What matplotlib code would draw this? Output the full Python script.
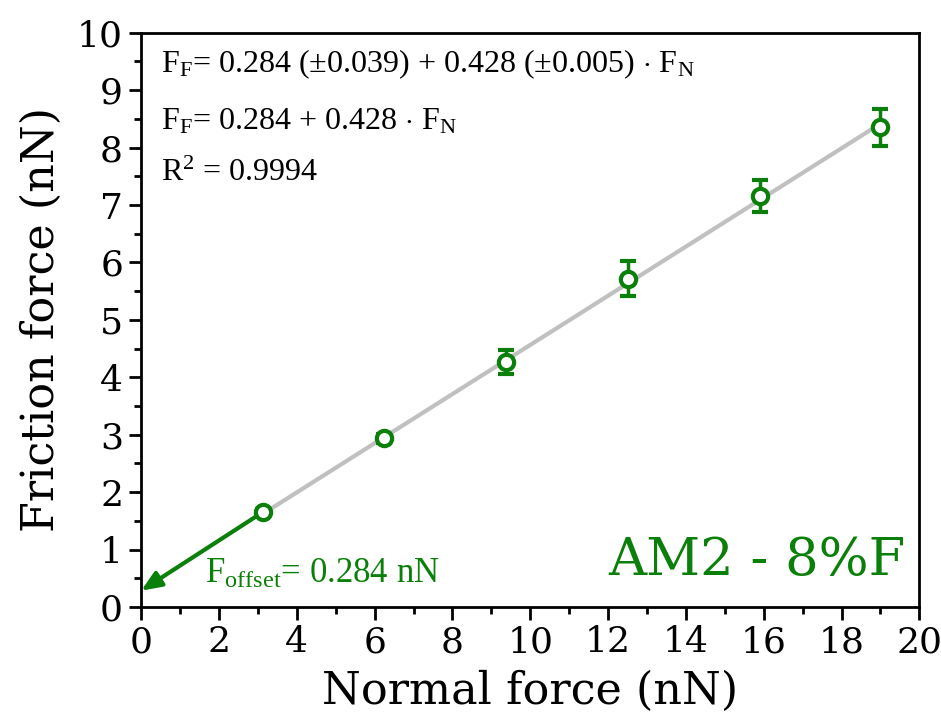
import matplotlib
matplotlib.use("Agg")
import matplotlib.pyplot as plt
import numpy as np

plt.rcParams['font.family'] = ['DejaVu Serif']
plt.rcParams['mathtext.fontset'] = 'custom'
plt.rcParams['mathtext.rm'] = 'Liberation Serif'
plt.rcParams['mathtext.it'] = 'Liberation Serif:italic'

GREEN = '#0a800a'

normal_force = [3.12, 6.23, 9.38, 12.5, 15.9, 19.0]
friction_force = [1.65, 2.94, 4.27, 5.72, 7.16, 8.35]
friction_err = [0.05, 0.08, 0.21, 0.31, 0.28, 0.33]

intercept = 0.284
slope = 0.428

fig, ax = plt.subplots(figsize=(9.41, 7.27), dpi=100)
fig.subplots_adjust(left=0.150, right=0.977, top=0.955, bottom=0.165)

xfit = np.array([normal_force[0], normal_force[-1] + 0.1])
ax.plot(xfit, intercept + slope * xfit, color='#c0c0c0', lw=3, zorder=1)

ax.errorbar(normal_force, friction_force, yerr=friction_err, fmt='o', ms=11,
            mfc='white', mec=GREEN, mew=3, ecolor=GREEN, elinewidth=2.5,
            capsize=5.5, capthick=2.5, zorder=3)

ax.annotate('', xy=(0, intercept), xytext=(normal_force[0], friction_force[0]),
            arrowprops=dict(arrowstyle='-|>,head_length=1.2,head_width=0.5',
                            color=GREEN, lw=3, shrinkA=6, shrinkB=0), zorder=2)

eq_font = dict(family='Liberation Serif', fontsize=23, va='center')
ax.text(1.65, 0.42, r'F$_{\rm offset}$= 0.284 nN', color=GREEN, fontsize=25,
        family='Liberation Serif')
ax.text(19.65, 0.55, 'AM2 - 8%F', color=GREEN, fontsize=38, ha='right')

ax.text(0.5, 9.45, r'F$_{\rm F}$= 0.284 ($\pm$0.039) + 0.428 ($\pm$0.005) $\cdot$ F$_{\rm N}$',
        **eq_font)
ax.text(0.5, 8.45, r'F$_{\rm F}$= 0.284 + 0.428 $\cdot$ F$_{\rm N}$', **eq_font)
ax.text(0.5, 7.55, r'R$^2$ = 0.9994', **eq_font)

ax.set_xlim(0, 20)
ax.set_ylim(0, 10)
ax.set_xticks(np.arange(0, 21, 2))
ax.set_yticks(np.arange(0, 11, 1))
ax.set_xticks(np.arange(1, 20, 2), minor=True)
ax.set_yticks(np.arange(0.5, 10, 1), minor=True)
ax.tick_params(which='major', direction='out', length=9, width=2, labelsize=26, pad=4)
ax.tick_params(which='minor', direction='out', length=5, width=2)
for sp in ax.spines.values():
    sp.set_linewidth(2)

ax.set_xlabel('Normal force (nN)', fontsize=32, labelpad=8)
ax.set_ylabel('Friction force (nN)', fontsize=32, labelpad=10)

fig.savefig('out.png', dpi=100)
